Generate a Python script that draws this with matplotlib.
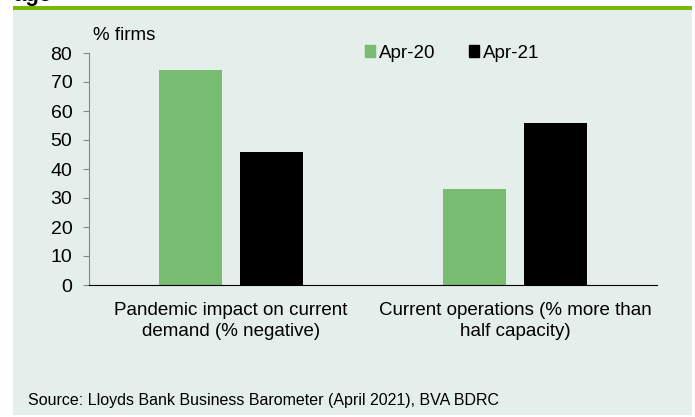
import matplotlib
matplotlib.use("Agg")
import matplotlib.pyplot as plt
from matplotlib.patches import Rectangle, Patch
import numpy as np

plt.rcParams['font.family'] = ['Liberation Sans', 'DejaVu Sans']

# Data
categories = ["Pandemic impact on current\ndemand (% negative)",
              "Current operations (% more than\nhalf capacity)"]
series_names = ["Apr-20", "Apr-21"]
apr20 = [74, 33]
apr21 = [46, 56]
yticks = [0, 10, 20, 30, 40, 50, 60, 70, 80]

green = "#77BC71"
black = "#000000"
panel = "#E4EEEA"
line_green = "#76B900"
fs = 13.5

W, H = 695, 417
fig = plt.figure(figsize=(W / 100, H / 100), dpi=100)

# panel background and green rule
fig.patches.append(Rectangle((13 / W, 2 / H), (692 - 13) / W, (407) / H,
                             transform=fig.transFigure, facecolor=panel,
                             edgecolor="none", zorder=-2))
fig.patches.append(Rectangle((13 / W, 1 - 10 / H), (692 - 13) / W, 4 / H,
                             transform=fig.transFigure, facecolor=line_green,
                             edgecolor="none", zorder=-1))
# cropped title remnant (cut off at the top, as in the source page)
fig.text(13 / W, 1 - 0.5 / H, "age", fontsize=16, fontweight="bold",
         ha="left", va="baseline", color="black")

ax = fig.add_axes([89 / W, 1 - 285 / H, (657 - 89) / W, (285 - 53) / H])
ax.set_facecolor("none")

x = np.arange(len(categories))
bw = 0.222
off = 0.143
ax.bar(x - off, apr20, width=bw, color=green, label=series_names[0], zorder=2)
ax.bar(x + off, apr21, width=bw, color=black, label=series_names[1], zorder=2)

ax.set_xlim(-0.5, 1.5)
ax.set_ylim(0, 80)
ax.set_yticks(yticks)
ax.tick_params(axis="y", labelsize=14, length=4, color="#868686", pad=8)
ax.set_xticks(x)
ax.set_xticklabels(categories, fontsize=fs, linespacing=1.3)
ax.tick_params(axis="x", length=0, pad=12)

for s in ["top", "right"]:
    ax.spines[s].set_visible(False)
ax.spines["left"].set_color("#868686")
ax.spines["bottom"].set_color("black")

fig.text(93 / W, 1 - 35 / H, "% firms", fontsize=fs, ha="left", va="center")

handles = [Patch(color=green), Patch(color=black)]
fig.legend(handles, series_names, loc="center", bbox_to_anchor=(452 / W, 1 - 53 / H),
           ncol=2, frameon=False, fontsize=fs, handlelength=0.55, handleheight=0.55,
           handletextpad=0.2, columnspacing=1.8)

fig.text(28 / W, 1 - 401 / H, "Source: Lloyds Bank Business Barometer (April 2021), BVA BDRC",
         fontsize=11.5, ha="left", va="center")

fig.savefig("out.png", dpi=100)
